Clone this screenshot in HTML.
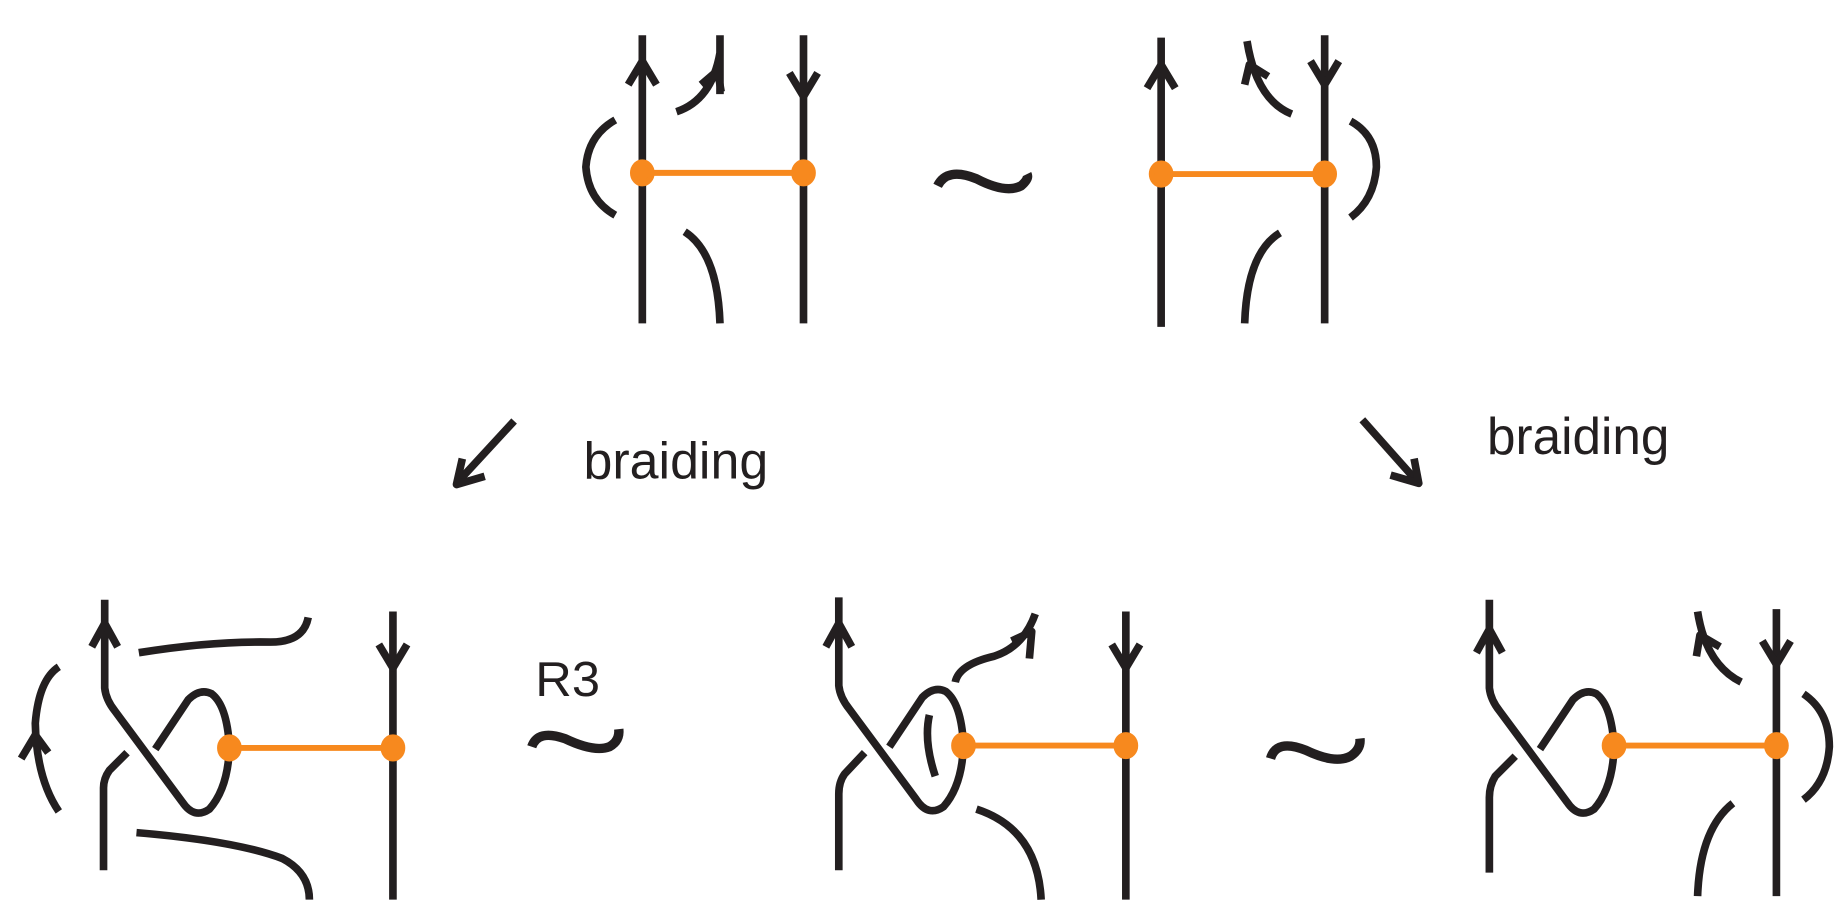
<!DOCTYPE html>
<html><head><style>html,body{margin:0;padding:0;background:#fff;}svg{display:block}</style></head>
<body>
<svg width="1847" height="922" viewBox="0 0 1570 784" preserveAspectRatio="none" xmlns="http://www.w3.org/2000/svg">
<g fill="none" stroke="#231f20" stroke-width="6.5" stroke-linejoin="round">
<!-- top left -->
<path d="M546,30V275M683,30V275"/>
<path d="M534,72L546,52L558,72"/>
<path d="M671,62L683,82L695,62"/>
<path d="M523,102Q500,115 498,142Q500,170 523,183"/>
<path d="M575,95Q605,85 612,45M612,30V80"/>
<path d="M596,72L610,60L613,78"/>
<path d="M582,197Q610,215 612,275"/>
<path d="M797,158Q805,142 830,152Q855,165 868,158Q875,152 873,148" stroke-width="8"/>
<!-- top right -->
<path d="M987,32V278M1126,30V275"/>
<path d="M975,75L987,55L999,75"/>
<path d="M1114,52L1126,72L1138,52"/>
<path d="M1148,103Q1170,115 1170,142Q1168,170 1148,185"/>
<path d="M1098,97Q1068,85 1060,35"/>
<path d="M1058,72L1062,55L1078,65"/>
<path d="M1088,198Q1060,215 1058,275"/>
<!-- braiding arrows -->
<path d="M437,358L389,410"/>
<path d="M393,390L388,412L412,405"/>
<path d="M1158,357L1206,411"/>
<path d="M1182,404L1206,411L1202,390"/>
<!-- bottom left -->
<path d="M89,510V585Q90,595 98,605L155,682Q165,697 178,688Q194,670 195,635Q193,600 180,590Q170,585 160,595L132,637"/>
<path d="M108,640L93,655Q88,662 88,670V740"/>
<path d="M78,550L89,530L100,550"/>
<path d="M50,567Q33,578 30,615Q31,662 50,690"/>
<path d="M18,645L30,625L41,640"/>
<path d="M118,555Q180,545 230,546Q258,546 262,525"/>
<path d="M116,708Q200,715 240,730Q263,742 263,765"/>
<path d="M334,520V765"/>
<path d="M322,548L334,568L346,548"/>
<path d="M452,635Q457,620 480,628Q505,640 518,635Q527,630 526,620" stroke-width="8"/>
<!-- bottom middle -->
<path d="M713,508V583Q714,593 722,603L779,680Q789,695 802,686Q818,668 819,633Q817,598 804,588Q794,583 784,593L756,635"/>
<path d="M735,640L718,658Q713,665 713,675V740"/>
<path d="M702,550L713,530L724,550"/>
<path d="M790,608Q785,630 795,660"/>
<path d="M812,580Q815,565 845,558Q870,550 880,522"/>
<path d="M860,545L877,537L875,560"/>
<path d="M830,688Q882,705 885,765"/>
<path d="M957,520V765"/>
<path d="M945,548L957,568L969,548"/>
<path d="M1080,645Q1085,628 1110,638Q1135,650 1148,643Q1157,637 1156,628" stroke-width="8"/>
<!-- bottom right -->
<path d="M1266,510V585Q1267,595 1275,605L1332,682Q1342,697 1355,688Q1371,670 1372,635Q1370,600 1357,590Q1347,585 1337,595L1309,637"/>
<path d="M1288,643L1271,660Q1266,668 1266,678V742"/>
<path d="M1255,555L1266,535L1277,555"/>
<path d="M1510,518V762"/>
<path d="M1498,545L1510,565L1522,545"/>
<path d="M1480,580Q1450,565 1443,520"/>
<path d="M1442,558L1445,540L1462,550"/>
<path d="M1533,590Q1555,605 1555,635Q1553,665 1533,680"/>
<path d="M1473,683Q1445,705 1443,762"/>
</g>
<g stroke="#f7891e" stroke-width="5" fill="#f7891e">
<line x1="546" y1="147" x2="683" y2="147"/><ellipse cx="546" cy="147" rx="8" ry="9"/><ellipse cx="683" cy="147" rx="8" ry="9"/>
<line x1="987" y1="148" x2="1126" y2="148"/><ellipse cx="987" cy="148" rx="8" ry="9"/><ellipse cx="1126" cy="148" rx="8" ry="9"/>
<line x1="195" y1="636" x2="334" y2="636"/><ellipse cx="195" cy="636" rx="8" ry="9"/><ellipse cx="334" cy="636" rx="8" ry="9"/>
<line x1="819" y1="634" x2="957" y2="634"/><ellipse cx="819" cy="634" rx="8" ry="9"/><ellipse cx="957" cy="634" rx="8" ry="9"/>
<line x1="1372" y1="634" x2="1510" y2="634"/><ellipse cx="1372" cy="634" rx="8" ry="9"/><ellipse cx="1510" cy="634" rx="8" ry="9"/>
</g>
<g font-family="Liberation Sans, sans-serif" font-size="44" fill="#231f20">
<text x="496" y="407" textLength="157" lengthAdjust="spacingAndGlyphs">braiding</text>
<text x="1264" y="386" textLength="155" lengthAdjust="spacingAndGlyphs">braiding</text>
<text x="455" y="592" font-size="42" textLength="55" lengthAdjust="spacingAndGlyphs">R3</text>
</g>
</svg>
</body></html>
